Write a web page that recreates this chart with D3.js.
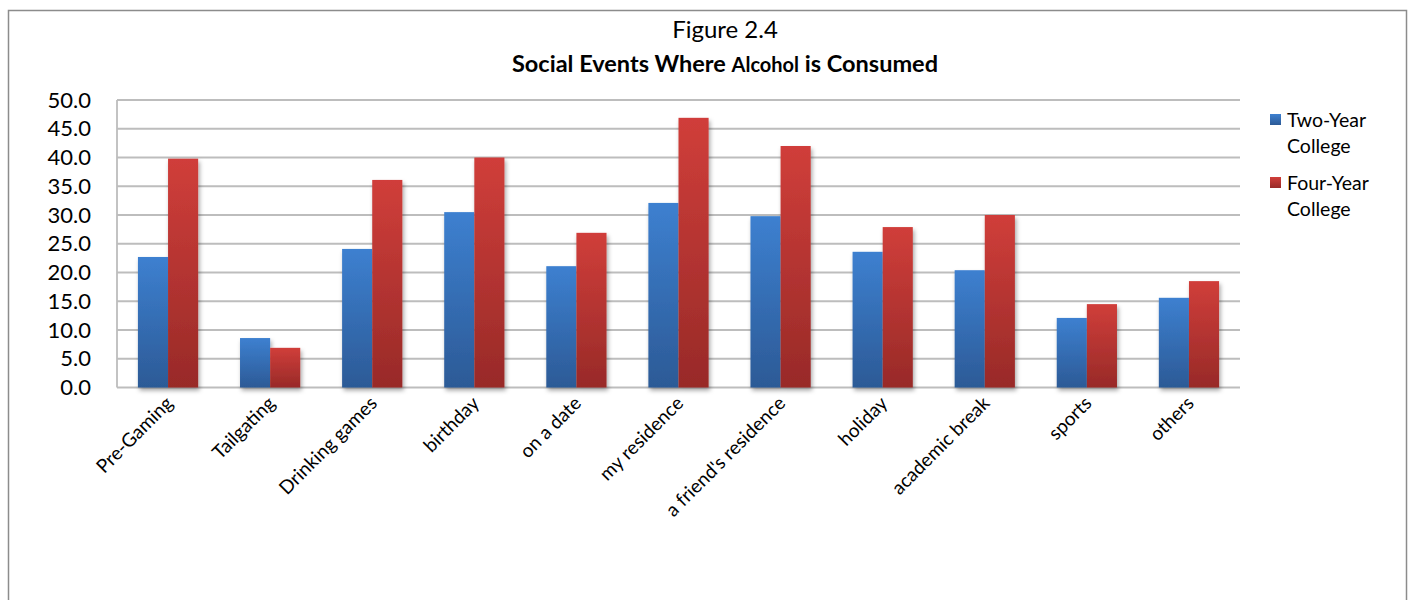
<!DOCTYPE html>
<html>
<head>
<meta charset="utf-8">
<script src="https://cdn.jsdelivr.net/npm/d3@7"></script>
<style>
  html, body { margin: 0; padding: 0; background: #fff; }
  svg { display: block; font-family: Lato, "Open Sans", sans-serif; }
</style>
</head>
<body>
<svg id="chart" width="1413" height="600"></svg>
<script>
// Survey results: share of students drinking at each kind of social event
const categories = ["Pre-Gaming", "Tailgating", "Drinking games", "birthday", "on a date",
  "my residence", "a friend's residence", "holiday", "academic break", "sports", "others"];
const twoYear  = [22.7, 8.6, 24.1, 30.5, 21.1, 32.1, 29.8, 23.6, 20.4, 12.1, 15.6];
const fourYear = [39.8, 6.9, 36.1, 40.0, 26.9, 46.9, 42.0, 27.9, 30.0, 14.5, 18.5];
const seriesNames = ["Two-Year College", "Four-Year College"];
const yTicks = [0, 5, 10, 15, 20, 25, 30, 35, 40, 45, 50];

const svg = d3.select("#chart");
const plot = { left: 117, right: 1240, top: 100, bottom: 387.5 };

// outer frame
svg.append("rect")
  .attr("x", 8.5).attr("y", 10.5).attr("width", 1398).attr("height", 620)
  .attr("fill", "#fff").attr("stroke", "#8c8c8c").attr("stroke-width", 1.5);

const defs = svg.append("defs");
const grads = [
  { id: "gBlue", top: "#3d80d0", bottom: "#2c5a96" },
  { id: "gRed",  top: "#d03e3a", bottom: "#982a28" }
];
grads.forEach(g => {
  const lg = defs.append("linearGradient").attr("id", g.id)
    .attr("x1", 0).attr("y1", 0).attr("x2", 0).attr("y2", 1);
  lg.append("stop").attr("offset", "0%").attr("stop-color", g.top);
  lg.append("stop").attr("offset", "100%").attr("stop-color", g.bottom);
});
const shadow = defs.append("filter").attr("id", "shadow")
  .attr("x", "-20%").attr("y", "-10%").attr("width", "150%").attr("height", "130%");
shadow.append("feDropShadow").attr("dx", 1.5).attr("dy", 3).attr("stdDeviation", 2.2)
  .attr("flood-color", "#000").attr("flood-opacity", 0.35);

const x = d3.scaleBand().domain(categories).range([plot.left, plot.right]).paddingInner(0.41).paddingOuter(0.205);
const xs = d3.scaleBand().domain(seriesNames).range([0, x.bandwidth()]);
const y = d3.scaleLinear().domain([0, 50]).range([plot.bottom, plot.top]);

// gridlines
svg.append("g").selectAll("line").data(yTicks).join("line")
  .attr("x1", plot.left).attr("x2", plot.right)
  .attr("y1", d => y(d)).attr("y2", d => y(d))
  .attr("stroke", "#bdbdbd").attr("stroke-width", 1.8);

// left axis line
svg.append("line").attr("x1", plot.left).attr("x2", plot.left)
  .attr("y1", plot.top).attr("y2", plot.bottom)
  .attr("stroke", "#bdbdbd").attr("stroke-width", 1.8);

// y tick labels
const yAxis = svg.append("g").attr("transform", `translate(${plot.left - 26},0)`)
  .call(d3.axisLeft(y).tickValues(yTicks).tickFormat(d3.format(".1f")).tickSize(0).tickPadding(0));
yAxis.select(".domain").remove();
yAxis.selectAll("text").attr("font-size", 22).attr("fill", "#000")
  .attr("font-family", "Lato, sans-serif");

// bars
const rows = categories.map((c, i) => ({ c, vals: [twoYear[i], fourYear[i]] }));
const gBars = svg.append("g").attr("filter", "url(#shadow)");
rows.forEach(r => {
  r.vals.forEach((v, k) => {
    gBars.append("rect")
      .attr("x", x(r.c) + xs(seriesNames[k]))
      .attr("y", y(v))
      .attr("width", xs.bandwidth())
      .attr("height", y(0) - y(v))
      .attr("fill", k === 0 ? "url(#gBlue)" : "url(#gRed)");
  });
});

// x labels rotated
const xAxis = svg.append("g").attr("transform", `translate(0,${plot.bottom})`)
  .call(d3.axisBottom(x).tickSize(0).tickPadding(0));
xAxis.select(".domain").remove();
xAxis.selectAll("text")
  .attr("font-size", 19).attr("fill", "#000").attr("font-family", "Lato, sans-serif")
  .attr("text-anchor", "end")
  .attr("dy", null).attr("y", 0)
  .attr("transform", "translate(6,17) rotate(-45)");

// titles
svg.append("text").attr("x", 725).attr("y", 38).attr("text-anchor", "middle")
  .attr("font-size", 24).text("Figure 2.4");
const t2 = svg.append("text").attr("x", 725).attr("y", 72).attr("text-anchor", "middle")
  .attr("font-size", 23.5).attr("font-weight", "bold");
t2.append("tspan").text("Social Events Where ");
t2.append("tspan").attr("font-size", 20).text("Alcohol");
t2.append("tspan").text(" is Consumed");

// legend
const legend = svg.append("g");
[["Two-Year", "College"], ["Four-Year", "College"]].forEach((lines, k) => {
  const g = legend.append("g").attr("transform", `translate(1270,${114 + k * 63})`);
  g.append("rect").attr("width", 11).attr("height", 11)
    .attr("fill", k === 0 ? "url(#gBlue)" : "url(#gRed)");
  g.selectAll("text").data(lines).join("text")
    .attr("x", 17).attr("y", (d, j) => 13 + j * 26)
    .attr("font-size", 19.5).text(d => d);
});
</script>
</body>
</html>
